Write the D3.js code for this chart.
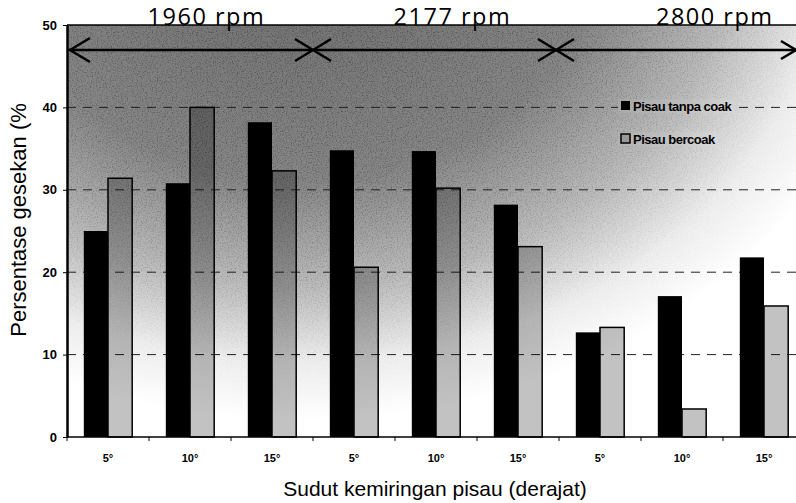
<!DOCTYPE html>
<html>
<head>
<meta charset="utf-8">
<script src="https://cdn.jsdelivr.net/npm/d3@7"></script>
<style>
  body { margin: 0; background: #fff; }
  svg { display: block; font-family: Arial, "Liberation Sans", sans-serif; }
</style>
</head>
<body>
<div id="chart"></div>
<script>
// --data--
const groups = ["5°", "10°", "15°", "5°", "10°", "15°", "5°", "10°", "15°"];
const tanpaCoak = [25, 30.8, 38.2, 34.8, 34.7, 28.2, 12.7, 17.1, 21.8];
const bercoak = [31.4, 40, 32.3, 20.6, 30.2, 23.1, 13.3, 3.4, 15.9];
const seriesNames = ["Pisau tanpa coak", "Pisau bercoak"];
const speeds = ["1960 rpm", "2177 rpm", "2800 rpm"];
const yTicks = [0, 10, 20, 30, 40, 50];

// --graph--
const W = 796, H = 503;
const plotLeft = 67, plotRight = 805, plotTop = 25, plotBottom = 437;

const svg = d3.select("#chart").append("svg")
  .attr("width", W)
  .attr("height", H);

const defs = svg.append("defs");

// shaded background: dark at the top, fading to white at the bottom and right
const bgStops = [[0, "#6c6c6c"], [0.5, "#878787"], [0.72, "#bcbcbc"], [0.88, "#eeeeee"], [1, "#ffffff"]];
function addGradient(id, invert) {
  const g = defs.append("radialGradient")
    .attr("id", id)
    .attr("gradientUnits", "userSpaceOnUse")
    .attr("cx", 0).attr("cy", 0).attr("r", 1)
    .attr("gradientTransform", "translate(300,-60) scale(600,480)");
  bgStops.forEach(s => {
    const c = d3.color(s[1]);
    const col = invert ? d3.rgb(255 - c.r, 255 - c.g, 255 - c.b) : c;
    g.append("stop").attr("offset", s[0]).attr("stop-color", col.formatHex());
  });
}
addGradient("bg", false);
addGradient("bgInv", true);

// grain only where the background is dark
const mask = defs.append("mask").attr("id", "grainMask")
  .attr("maskUnits", "userSpaceOnUse")
  .attr("x", 0).attr("y", 0).attr("width", W).attr("height", H);
mask.append("rect")
  .attr("x", plotLeft).attr("y", plotTop)
  .attr("width", W - plotLeft).attr("height", plotBottom - plotTop)
  .attr("fill", "url(#bgInv)");

const noise = defs.append("filter").attr("id", "grain")
  .attr("filterUnits", "userSpaceOnUse")
  .attr("x", plotLeft).attr("y", plotTop)
  .attr("width", W - plotLeft).attr("height", plotBottom - plotTop);
noise.append("feTurbulence")
  .attr("type", "fractalNoise").attr("baseFrequency", 0.8).attr("numOctaves", 2)
  .attr("seed", 3).attr("result", "n");
noise.append("feColorMatrix").attr("in", "n").attr("type", "matrix")
  .attr("values", "0 0 0 0 0  0 0 0 0 0  0 0 0 0 0  -3 0 0 0 1.6");

const x0 = d3.scaleBand()
  .domain(d3.range(groups.length))
  .range([plotLeft, plotRight])
  .paddingInner(0.41)
  .paddingOuter(0.205);

const x1 = d3.scaleBand()
  .domain([0, 1])
  .range([0, x0.bandwidth()]);

const y = d3.scaleLinear()
  .domain([0, 50])
  .range([plotBottom, plotTop]);

const plot = svg.append("g");

plot.append("rect")
  .attr("x", plotLeft).attr("y", plotTop)
  .attr("width", W - plotLeft).attr("height", plotBottom - plotTop)
  .attr("fill", "url(#bg)");
plot.append("g")
  .attr("mask", "url(#grainMask)")
  .append("rect")
  .attr("x", plotLeft).attr("y", plotTop)
  .attr("width", W - plotLeft).attr("height", plotBottom - plotTop)
  .attr("fill", "#000")
  .attr("filter", "url(#grain)")
  .attr("opacity", 0.55);

// dashed grid lines
plot.selectAll(".grid")
  .data(yTicks.filter(d => d > 0 && d < 50))
  .enter().append("line")
  .attr("x1", plotLeft).attr("x2", W)
  .attr("y1", d => y(d)).attr("y2", d => y(d))
  .attr("stroke", "#222")
  .attr("stroke-width", 1)
  .attr("stroke-dasharray", "9,7");

// bars
const rows = groups.map((g, i) => ({ i: i, vals: [tanpaCoak[i], bercoak[i]] }));
const grp = plot.selectAll(".grp")
  .data(rows)
  .enter().append("g")
  .attr("transform", d => `translate(${x0(d.i)},0)`);

grp.selectAll("rect")
  .data(d => d.vals.map((v, k) => ({ k: k, v: v })))
  .enter().append("rect")
  .attr("x", d => x1(d.k))
  .attr("y", d => y(d.v))
  .attr("width", x1.bandwidth())
  .attr("height", d => plotBottom - y(d.v))
  .attr("fill", d => d.k == 0 ? "#000" : "rgba(0,0,0,0.24)")
  .attr("stroke", "#000")
  .attr("stroke-width", d => d.k == 0 ? 0 : 1.5);

// axes
const xAxis = svg.append("g");
xAxis.append("line")
  .attr("x1", plotLeft).attr("x2", W)
  .attr("y1", plotBottom).attr("y2", plotBottom)
  .attr("stroke", "#000").attr("stroke-width", 1.5);
xAxis.selectAll(".xt")
  .data(d3.range(groups.length + 1))
  .enter().append("line")
  .attr("x1", d => plotLeft + d * x0.step()).attr("x2", d => plotLeft + d * x0.step())
  .attr("y1", plotBottom).attr("y2", plotBottom + 4)
  .attr("stroke", "#000");
xAxis.selectAll(".xl")
  .data(groups)
  .enter().append("text")
  .attr("x", (d, i) => x0(i) + x0.bandwidth() / 2)
  .attr("y", 462)
  .attr("text-anchor", "middle")
  .attr("font-size", 11)
  .attr("font-weight", "bold")
  .text(d => d);

const yAxis = svg.append("g")
  .attr("transform", `translate(${plotLeft},0)`)
  .call(d3.axisLeft(y).tickValues(yTicks).tickSize(4).tickSizeOuter(0).tickPadding(6));
yAxis.select(".domain").attr("stroke-width", 2.5);
yAxis.selectAll("text")
  .attr("font-size", 13)
  .attr("font-weight", "bold")
  .attr("font-family", "Arial, 'Liberation Sans', sans-serif");

// top border of the plot
svg.append("line")
  .attr("x1", plotLeft).attr("x2", W)
  .attr("y1", plotTop).attr("y2", plotTop)
  .attr("stroke", "#000").attr("stroke-width", 1.5);

// axis titles
svg.append("text")
  .attr("transform", "translate(26,220) rotate(-90)")
  .attr("text-anchor", "middle")
  .attr("font-size", 22)
  .text("Persentase gesekan (%");

svg.append("text")
  .attr("x", 435).attr("y", 496)
  .attr("text-anchor", "middle")
  .attr("font-size", 21)
  .text("Sudut kemiringan pisau (derajat)");

// legend, its entries hide the grid lines behind them
const legX = 621, legY = 101, legGap = 33;
seriesNames.forEach((name, k) => {
  const g = svg.append("g");
  const ty = legY + k * legGap;
  const label = g.append("text")
    .attr("x", legX + 12).attr("y", ty + 9.5)
    .attr("font-size", 13)
    .attr("font-weight", "bold")
    .attr("letter-spacing", -0.5)
    .text(name);
  const bb = label.node().getBBox();
  g.insert("rect", "text")
    .attr("x", legX - 3).attr("y", ty - 2)
    .attr("width", bb.x + bb.width - legX + 4).attr("height", 14)
    .attr("fill", "url(#bg)");
  g.insert("rect", "text")
    .attr("x", legX).attr("y", ty).attr("width", 9).attr("height", 9)
    .attr("fill", k == 0 ? "#000" : "#999")
    .attr("stroke", "#000").attr("stroke-width", k == 0 ? 0 : 1.5);
});

// speed arrow with separators
const arrowY = 50;
const ann = svg.append("g").attr("stroke", "#000").attr("fill", "none");
ann.append("line")
  .attr("x1", plotLeft + 2).attr("x2", W)
  .attr("y1", arrowY).attr("y2", arrowY)
  .attr("stroke-width", 2.5);
ann.append("path")
  .attr("d", `M${plotLeft + 23},${arrowY - 12} L${plotLeft + 3},${arrowY} L${plotLeft + 23},${arrowY + 12}`)
  .attr("stroke-width", 2.5);
ann.append("path")
  .attr("d", `M${W - 15},${arrowY - 9} L${W},${arrowY} L${W - 15},${arrowY + 9}`)
  .attr("stroke-width", 2.5);
[3, 6].forEach(i => {
  const cx = plotLeft + i * x0.step() - (i == 6 ? 3 : 0);
  ann.append("path")
    .attr("d", `M${cx - 18},${arrowY - 11} L${cx + 18},${arrowY + 11} M${cx - 18},${arrowY + 11} L${cx + 18},${arrowY - 11}`)
    .attr("stroke-width", 2.5);
});

const speedOffsets = [1.7, 1.7, 1.9];
svg.selectAll(".speed")
  .data(speeds)
  .enter().append("text")
  .attr("x", (d, i) => plotLeft + (i * 3 + speedOffsets[i]) * x0.step())
  .attr("y", 25)
  .attr("text-anchor", "middle")
  .attr("font-family", "'Open Sans', Lato, sans-serif")
  .attr("font-size", 23.5)
  .attr("letter-spacing", 1.5)
  .attr("fill", "#000")
  .text(d => d);
</script>
</body>
</html>
